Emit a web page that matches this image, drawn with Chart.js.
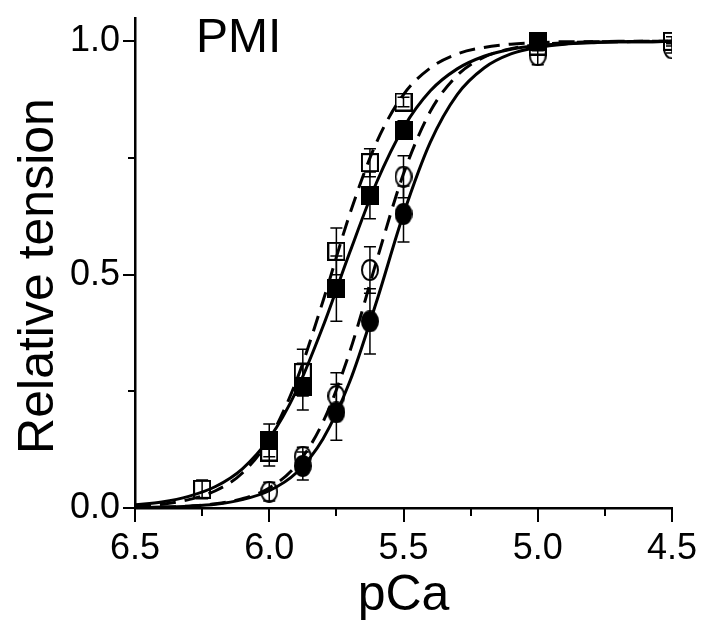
<!DOCTYPE html>
<html>
<head>
<meta charset="utf-8">
<script src="https://cdn.jsdelivr.net/npm/chart.js@4.4.1/dist/chart.umd.min.js"></script>
<style>
  html, body { margin: 0; padding: 0; background: #fff; }
  #wrap { width: 714px; height: 624px; }
</style>
</head>
<body>
<div id="wrap"><canvas id="grafico" width="714" height="624"></canvas></div>
<script>
// measured points (pCa)
var pCaPts = [6.25, 6.0, 5.875, 5.75, 5.625, 5.5, 5.0, 4.5];

var openSq      = [0.04, 0.12, 0.29, 0.55, 0.74, 0.87, 0.99, 1.0];
var openSqErr   = [0.02, 0.03, 0.05, 0.05, 0.03, 0.01, 0.01, 0.01];
var filledSq    = [null, 0.145, 0.26, 0.47, 0.67, 0.81, 1.0, null];
var filledSqErr = [null, 0.035, 0.05, 0.07, 0.05, 0.02, 0.01, null];
var openCirc    = [null, 0.035, 0.11, 0.24, 0.51, 0.71, 0.97, 0.985];
var openCircErr = [null, 0.02, 0.02, 0.05, 0.05, 0.045, 0.02, 0.01];
var filledCirc  = [null, null, 0.09, 0.205, 0.40, 0.63, null, null];
var filledCircErr = [null, null, 0.03, 0.06, 0.07, 0.06, null, null];

// fitted curves
var pCaFit = [6.5, 6.4, 6.3, 6.2, 6.1, 6.0, 5.9, 5.8, 5.7, 5.6, 5.5, 5.4, 5.3, 5.2, 5.1, 5.0, 4.9, 4.8, 4.7, 4.6, 4.5];
var fitOpenSq     = [0.004, 0.008, 0.018, 0.037, 0.075, 0.148, 0.271, 0.443, 0.630, 0.784, 0.886, 0.943, 0.973, 0.987, 0.994, 0.997, 0.999, 0.999, 1.0, 1.0, 1.0];
var fitFilledSq   = [0.007, 0.013, 0.025, 0.046, 0.084, 0.149, 0.250, 0.389, 0.548, 0.698, 0.815, 0.894, 0.941, 0.968, 0.983, 0.991, 0.995, 0.998, 0.999, 0.999, 1.0];
var fitOpenCirc   = [0.001, 0.002, 0.004, 0.009, 0.020, 0.043, 0.091, 0.184, 0.335, 0.530, 0.716, 0.850, 0.927, 0.966, 0.984, 0.993, 0.997, 0.999, 0.999, 1.0, 1.0];
var fitFilledCirc = [0.001, 0.002, 0.004, 0.008, 0.018, 0.037, 0.075, 0.148, 0.271, 0.443, 0.630, 0.784, 0.886, 0.943, 0.973, 0.987, 0.994, 0.997, 0.999, 0.999, 1.0];

var xTickVals = [6.5, 6.25, 6.0, 5.75, 5.5, 5.25, 5.0, 4.75, 4.5];
var yTickVals = [0, 0.25, 0.5, 0.75, 1.0];

var FONT = '"Liberation Sans", Arial, Helvetica, sans-serif';

function toXY(xs, ys) {
    var out = [];
    for (var i = 0; i < xs.length; i++) {
        if (ys[i] !== null) out.push({ x: xs[i], y: ys[i] });
    }
    return out;
}

function isMajor(v) {
    return Math.abs(v * 2 - Math.round(v * 2)) < 1e-9;
}

// little canvases used as point styles (open ones are white inside)
function makeMarker(shape, filled) {
    var c = document.createElement('canvas');
    var w = 18, h = shape === 'square' ? 19 : 22;
    c.width = w; c.height = h;
    var g = c.getContext('2d');
    g.lineWidth = 2;
    g.strokeStyle = '#000';
    g.fillStyle = filled ? '#000' : '#fff';
    if (shape === 'square') {
        g.fillRect(1, 1, w - 2, h - 2);
        g.strokeRect(1, 1, w - 2, h - 2);
    } else {
        g.beginPath();
        g.ellipse(w / 2, h / 2, w / 2 - 1, h / 2 - 1, 0, 0, Math.PI * 2);
        g.fill();
        g.stroke();
    }
    return c;
}

var errorSets = [
    { ys: openSq, err: openSqErr },
    { ys: filledSq, err: filledSqErr },
    { ys: openCirc, err: openCircErr },
    { ys: filledCirc, err: filledCircErr }
];

// error bars go on top of the markers, like in the original
var errorBars = {
    id: 'errorBars',
    afterDatasetsDraw: function (chart) {
        var ctx = chart.ctx, xs = chart.scales.x, ys = chart.scales.y, a = chart.chartArea;
        ctx.save();
        ctx.beginPath();
        ctx.rect(a.left, a.top, a.right - a.left, a.bottom - a.top);
        ctx.clip();
        ctx.strokeStyle = '#000';
        ctx.lineWidth = 1.5;
        errorSets.forEach(function (s) {
            for (var i = 0; i < pCaPts.length; i++) {
                if (s.ys[i] === null) continue;
                var px = xs.getPixelForValue(pCaPts[i]);
                var top = ys.getPixelForValue(s.ys[i] + s.err[i]);
                var bot = ys.getPixelForValue(s.ys[i] - s.err[i]);
                ctx.beginPath();
                ctx.moveTo(px, top); ctx.lineTo(px, bot);
                ctx.moveTo(px - 6, top); ctx.lineTo(px + 6, top);
                ctx.moveTo(px - 6, bot); ctx.lineTo(px + 6, bot);
                ctx.stroke();
            }
        });
        ctx.restore();
    }
};

// tick marks (major longer than minor) and free texts
var extras = {
    id: 'extras',
    afterDraw: function (chart) {
        var ctx = chart.ctx, xs = chart.scales.x, ys = chart.scales.y, a = chart.chartArea;
        ctx.save();
        ctx.strokeStyle = '#000';
        ctx.lineWidth = 2;
        ctx.beginPath();
        xTickVals.forEach(function (v) {
            var px = Math.round(xs.getPixelForValue(v));
            ctx.moveTo(px, a.bottom);
            ctx.lineTo(px, a.bottom + (isMajor(v) ? 14 : 8));
        });
        yTickVals.forEach(function (v) {
            var py = Math.round(ys.getPixelForValue(v));
            ctx.moveTo(a.left, py);
            ctx.lineTo(a.left - (isMajor(v) ? 12 : 7), py);
        });
        ctx.stroke();

        ctx.fillStyle = '#000';
        ctx.font = '48px ' + FONT;
        ctx.textAlign = 'left';
        ctx.textBaseline = 'alphabetic';
        ctx.fillText('PMI', 196, 52);

        ctx.translate(53, 276);
        ctx.rotate(-Math.PI / 2);
        ctx.textAlign = 'center';
        ctx.font = '50px ' + FONT;
        ctx.fillText('Relative tension', 0, 0);
        ctx.restore();
    }
};

var ctx = document.getElementById('grafico').getContext('2d');

var grafico = new Chart(ctx, {
    type: 'scatter',
    data: {
        datasets: [
            { label: 'filled squares', data: toXY(pCaPts, filledSq), pointStyle: makeMarker('square', true), pointRadius: 9, clip: 0, order: 1 },
            { label: 'open squares', data: toXY(pCaPts, openSq), pointStyle: makeMarker('square', false), pointRadius: 9, clip: 0, order: 2 },
            { label: 'filled circles', data: toXY(pCaPts, filledCirc), pointStyle: makeMarker('circle', true), pointRadius: 9, clip: 0, order: 3 },
            { label: 'open circles', data: toXY(pCaPts, openCirc), pointStyle: makeMarker('circle', false), pointRadius: 9, clip: 0, order: 4 },
            { label: 'fit open squares', data: toXY(pCaFit, fitOpenSq), showLine: true, pointRadius: 0, borderDash: [16, 9], order: 0 },
            { label: 'fit filled squares', data: toXY(pCaFit, fitFilledSq), showLine: true, pointRadius: 0, order: 0 },
            { label: 'fit open circles', data: toXY(pCaFit, fitOpenCirc), showLine: true, pointRadius: 0, borderDash: [16, 9], order: 0 },
            { label: 'fit filled circles', data: toXY(pCaFit, fitFilledCirc), showLine: true, pointRadius: 0, order: 0 }
        ]
    },
    options: {
        responsive: false,
        animation: false,
        layout: { padding: { left: 0, top: 18, right: 42, bottom: 0 } },
        elements: {
            line: { borderColor: '#000', borderWidth: 3, cubicInterpolationMode: 'monotone', fill: false },
            point: { hoverRadius: 0, borderColor: '#000', backgroundColor: '#000' }
        },
        plugins: {
            legend: { display: false },
            tooltip: { enabled: false }
        },
        scales: {
            x: {
                type: 'linear',
                min: 4.5,
                max: 6.5,
                reverse: true,
                afterBuildTicks: function (s) { s.ticks = xTickVals.map(function (v) { return { value: v }; }); },
                afterFit: function (s) { s.height = 116; },
                grid: { drawOnChartArea: false, drawTicks: true, tickLength: 14, color: 'rgba(0,0,0,0)' },
                border: { display: true, color: '#000', width: 2.5 },
                ticks: {
                    autoSkip: false, maxRotation: 0, padding: 5, color: '#000',
                    font: { family: FONT, size: 36 },
                    callback: function (v) { return isMajor(v) ? v.toFixed(1) : ''; }
                },
                title: {
                    display: true, text: 'pCa', color: '#000',
                    font: { family: FONT, size: 50, lineHeight: 1.1 },
                    padding: { top: 0, bottom: 0 }
                }
            },
            y: {
                type: 'linear',
                min: 0,
                max: 1.05,
                afterBuildTicks: function (s) { s.ticks = yTickVals.map(function (v) { return { value: v }; }); },
                afterFit: function (s) { s.width = 135; s.paddingTop = 0; s.paddingBottom = 0; },
                grid: { drawOnChartArea: false, drawTicks: true, tickLength: 12, color: 'rgba(0,0,0,0)' },
                border: { display: true, color: '#000', width: 2.5 },
                ticks: {
                    autoSkip: false, padding: 3, color: '#000',
                    font: { family: FONT, size: 36 },
                    callback: function (v) { return isMajor(v) ? v.toFixed(1) : ''; }
                }
            }
        }
    },
    plugins: [errorBars, extras]
});
</script>
</body>
</html>
